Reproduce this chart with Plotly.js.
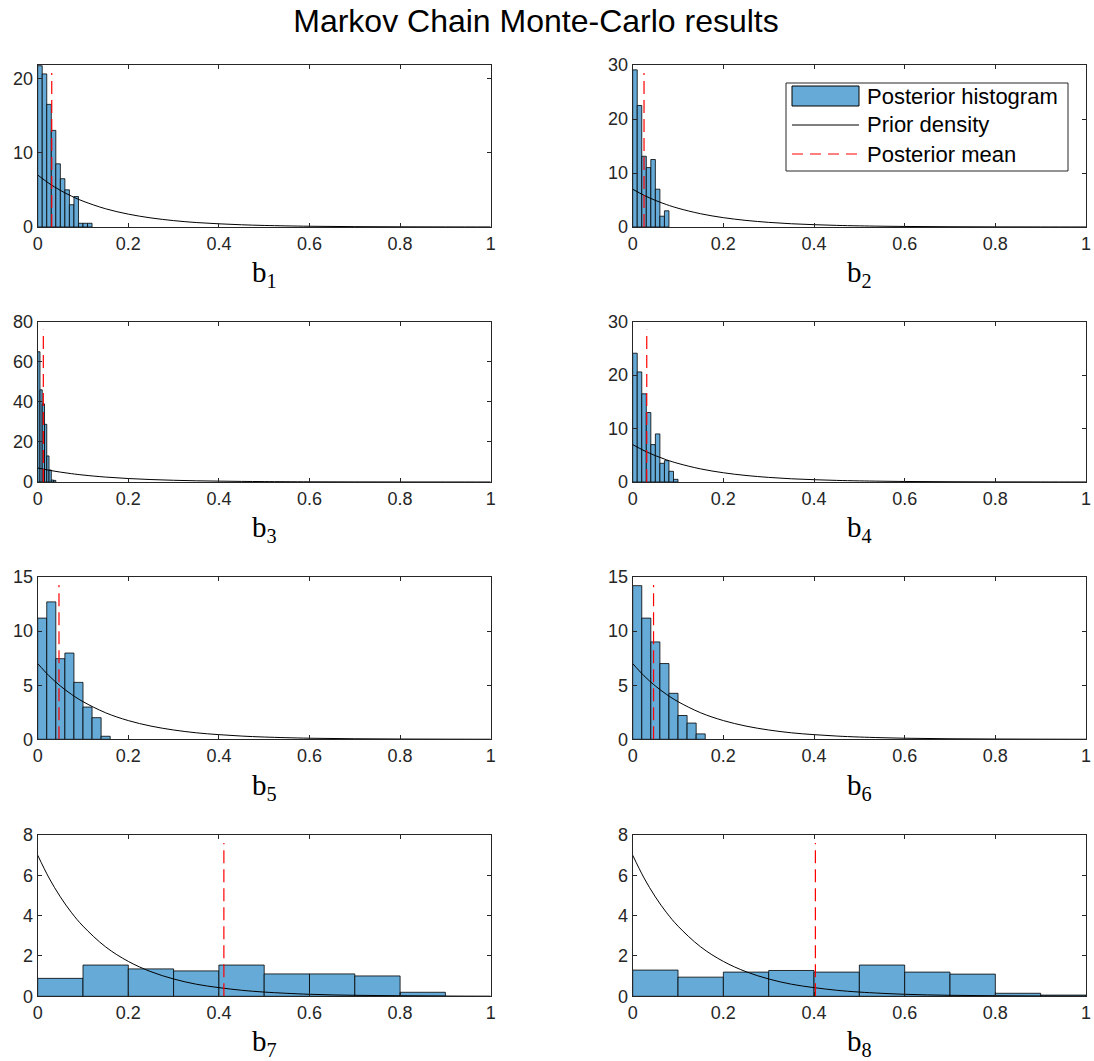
<!DOCTYPE html>
<html><head><meta charset="utf-8">
<script src="https://cdn.plot.ly/plotly-3.0.1.min.js"></script>
<style>html,body{margin:0;padding:0;background:#fff}#chart{width:1094px;height:1061px}</style>
</head><body><div id="chart"></div>
<script>
// ---------------- data ----------------
const panelLabels = ['b<sub>1</sub>','b<sub>2</sub>','b<sub>3</sub>','b<sub>4</sub>','b<sub>5</sub>','b<sub>6</sub>','b<sub>7</sub>','b<sub>8</sub>'];
const binWidth = [0.01, 0.01, 0.005, 0.01, 0.02, 0.02, 0.1, 0.1];
const b1Density = [21.7, 20.6, 16.5, 13.0, 8.5, 6.5, 5.0, 3.0, 4.1, 0.5, 0.5, 0.5];
const b2Density = [29.1, 22.5, 13.1, 11.0, 12.5, 7.0, 2.0, 3.0];
const b3Density = [65, 46, 39, 28.8, 13, 6, 1, 0.8];
const b4Density = [24.1, 20.6, 16.5, 13.0, 7.0, 9.0, 3.5, 4.0, 2.0, 0.5];
const b5Density = [11.2, 12.7, 7.45, 7.97, 5.26, 2.98, 2.0, 0.28];
const b6Density = [14.2, 11.2, 9.0, 7.0, 4.25, 2.2, 1.5, 0.5];
const b7Density = [0.89, 1.55, 1.36, 1.26, 1.55, 1.11, 1.11, 1.01, 0.2];
const b8Density = [1.3, 0.95, 1.2, 1.28, 1.2, 1.55, 1.2, 1.1, 0.15, 0.06];
const posteriorMean = [0.031, 0.025, 0.0124, 0.031, 0.047, 0.046, 0.411, 0.403];
const priorX = [0, 0.025, 0.05, 0.075, 0.1, 0.15, 0.2, 0.25, 0.3, 0.35, 0.4, 0.45, 0.5, 0.6, 0.7, 0.8, 0.9, 1.0];
const priorDensity = [7.0, 5.87, 4.93, 4.14, 3.48, 2.45, 1.73, 1.22, 0.86, 0.60, 0.43, 0.30, 0.21, 0.10, 0.05, 0.026, 0.013, 0.006];
const yMax = [21.8, 30, 80, 30, 15, 15, 8, 8];
const yTickStep = [10, 10, 20, 10, 5, 5, 2, 2];
const xTicks = [0, 0.2, 0.4, 0.6, 0.8, 1];
const xTickLabels = ['0', '0.2', '0.4', '0.6', '0.8', '1'];
const legendLabels = ['Posterior histogram', 'Prior density', 'Posterior mean'];
const chartTitle = 'Markov Chain Monte-Carlo results';

const densities = [b1Density, b2Density, b3Density, b4Density, b5Density, b6Density, b7Density, b8Density];

// ---------------- layout geometry (pixels) ----------------
const W = 1094, H = 1061;
const colLeft = [37.7, 632.7], colRight = [490.7, 1086];
const rowTop = [65, 321.7, 577, 835], rowBottom = [227, 482, 739.3, 996.3];
const px = v => v / W, py = v => 1 - v / H;

const barFill = 'rgb(102,170,215)';
const axisColor = '#262626';
const meanColor = 'rgb(255,0,0)';
const meanDash = '13px,6px';
const sansFont = 'Liberation Sans, Arial, sans-serif';

const traces = [];
const layout = {
  width: W, height: H,
  margin: {l: 0, r: 0, t: 0, b: 0},
  paper_bgcolor: '#fff', plot_bgcolor: '#fff',
  showlegend: false,
  barmode: 'overlay',
  font: {family: sansFont, color: axisColor},
  title: {text: chartTitle, x: px(536), xanchor: 'center', y: py(21), yanchor: 'middle', yref: 'container', xref: 'container',
          font: {family: sansFont, size: 32, color: '#000'}},
  shapes: [], annotations: []
};

for (let i = 0; i < 8; i++) {
  const row = Math.floor(i / 2), col = i % 2;
  const sfx = i === 0 ? '' : String(i + 1);
  const xa = 'x' + sfx, ya = 'y' + sfx;
  const d = densities[i];
  const w = binWidth[i];
  traces.push({
    type: 'bar', xaxis: xa, yaxis: ya,
    x: d.map((_, k) => k * w), y: d, width: d.map(() => w), offset: 0,
    marker: {color: barFill, line: {color: '#000', width: 0.8}},
    hoverinfo: 'skip'
  });
  traces.push({
    type: 'scatter', mode: 'lines', xaxis: xa, yaxis: ya,
    x: priorX, y: priorDensity, line: {color: '#000', width: 1, shape: 'spline'}, hoverinfo: 'skip'
  });
  traces.push({
    type: 'scatter', mode: 'lines', xaxis: xa, yaxis: ya,
    x: [posteriorMean[i], posteriorMean[i]], y: [0, 0.95 * yMax[i]],
    line: {color: meanColor, width: 1.2, dash: meanDash}, hoverinfo: 'skip'
  });
  const common = {
    ticks: 'inside', ticklen: 4, tickcolor: axisColor, tickwidth: 1,
    showline: true, linecolor: axisColor, linewidth: 1, mirror: 'ticks',
    showgrid: false, zeroline: false, fixedrange: true,
    tickfont: {family: sansFont, size: 18, color: axisColor}
  };
  layout['xaxis' + sfx] = Object.assign({}, common, {
    domain: [px(colLeft[col]), px(colRight[col])], anchor: ya,
    range: [0, 1], tickvals: xTicks, ticktext: xTickLabels,
    title: {text: panelLabels[i], standoff: 9, font: {family: 'Liberation Serif, DejaVu Serif, serif', size: 29, color: '#000'}}
  });
  layout['yaxis' + sfx] = Object.assign({}, common, {
    domain: [py(rowBottom[row]), py(rowTop[row])], anchor: xa,
    range: [0, yMax[i]], tick0: 0, dtick: yTickStep[i]
  });
}

// ---------------- legend (drawn in the top-right panel area) ----------------
const lg = {left: 786, right: 1068, top: 83, bottom: 171, swL: 792, swR: 859, textX: 865, rows: [96, 125, 154]};
layout.shapes.push({type: 'rect', xref: 'paper', yref: 'paper', x0: px(lg.left), x1: px(lg.right), y0: py(lg.bottom), y1: py(lg.top),
  line: {color: axisColor, width: 1}, fillcolor: '#fff', layer: 'above'});
layout.shapes.push({type: 'rect', xref: 'paper', yref: 'paper', x0: px(lg.swL), x1: px(lg.swR), y0: py(lg.rows[0] + 10), y1: py(lg.rows[0] - 10),
  line: {color: '#000', width: 1}, fillcolor: barFill, layer: 'above'});
layout.shapes.push({type: 'line', xref: 'paper', yref: 'paper', x0: px(lg.swL), x1: px(lg.swR), y0: py(lg.rows[1]), y1: py(lg.rows[1]),
  line: {color: '#000', width: 1}, layer: 'above'});
layout.shapes.push({type: 'line', xref: 'paper', yref: 'paper', x0: px(lg.swL), x1: px(lg.swR), y0: py(lg.rows[2]), y1: py(lg.rows[2]),
  line: {color: meanColor, width: 1, dash: '11px,7px'}, layer: 'above'});
legendLabels.forEach((t, k) => {
  layout.annotations.push({xref: 'paper', yref: 'paper', x: px(lg.textX), y: py(lg.rows[k]), xanchor: 'left', yanchor: 'middle',
    text: t, showarrow: false, font: {family: sansFont, size: 22, color: '#000'}});
});

Plotly.newPlot('chart', traces, layout, {staticPlot: true, displayModeBar: false});
</script>
</body></html>
